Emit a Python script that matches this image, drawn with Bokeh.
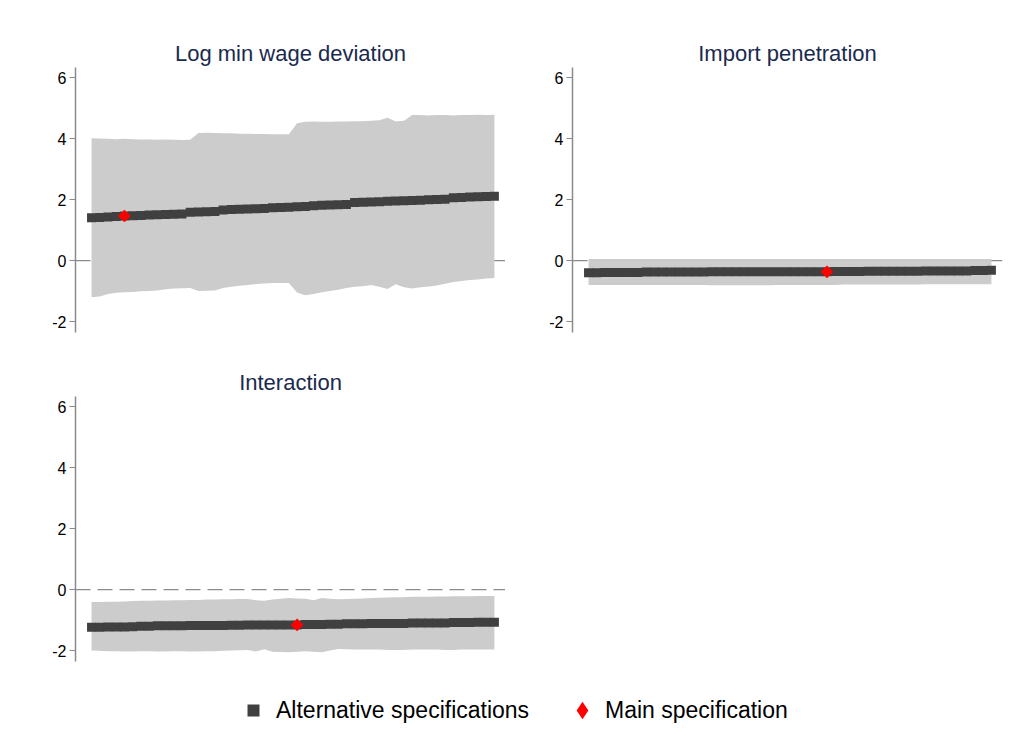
from bokeh.plotting import figure
from bokeh.layouts import column, row
from bokeh.models import (Range1d, FixedTicker, Span, Legend, LegendItem,
                          ColumnDataSource, CustomJSTickFormatter)
from bokeh.embed import file_html
from bokeh.resources import INLINE

# ---------------- data ----------------
spec_rank = list(range(1, 51))

titles = ["Log min wage deviation", "Import penetration", "Interaction"]

wage_coef = [1.40, 1.41, 1.43, 1.44, 1.46, 1.47, 1.48, 1.49, 1.50, 1.51,
             1.52, 1.53, 1.58, 1.59, 1.60, 1.61, 1.66, 1.67, 1.68, 1.69,
             1.70, 1.71, 1.73, 1.74, 1.75, 1.76, 1.77, 1.80, 1.81, 1.82,
             1.83, 1.84, 1.90, 1.91, 1.92, 1.93, 1.94, 1.95, 1.96, 1.97,
             1.98, 1.99, 2.00, 2.01, 2.06, 2.07, 2.08, 2.09, 2.10, 2.11]
wage_hi = [4.01, 4.00, 3.99, 3.98, 3.99, 3.98, 3.97, 3.97, 3.96, 3.97,
           3.96, 3.95, 3.96, 4.18, 4.19, 4.18, 4.17, 4.17, 4.16, 4.16,
           4.15, 4.15, 4.14, 4.14, 4.14, 4.50, 4.55, 4.56, 4.55, 4.55,
           4.56, 4.56, 4.57, 4.57, 4.58, 4.60, 4.68, 4.56, 4.58, 4.77,
           4.77, 4.76, 4.77, 4.77, 4.76, 4.77, 4.77, 4.78, 4.77, 4.78]
wage_lo = [-1.20, -1.18, -1.10, -1.06, -1.04, -1.03, -1.01, -1.00, -0.98, -0.94,
           -0.92, -0.91, -0.90, -1.00, -0.99, -0.98, -0.90, -0.86, -0.83, -0.80,
           -0.77, -0.75, -0.74, -0.74, -0.74, -1.05, -1.14, -1.10, -1.04, -1.00,
           -0.96, -0.90, -0.86, -0.84, -0.80, -0.86, -0.93, -0.78, -0.88, -0.92,
           -0.88, -0.85, -0.82, -0.76, -0.70, -0.67, -0.64, -0.62, -0.59, -0.57]
wage_main = 5

imp_coef = [-0.40, -0.40, -0.39, -0.39, -0.39, -0.39, -0.39, -0.38, -0.38, -0.38,
            -0.38, -0.38, -0.38, -0.38, -0.38, -0.37, -0.37, -0.37, -0.37, -0.37,
            -0.37, -0.37, -0.37, -0.37, -0.37, -0.37, -0.37, -0.37, -0.37, -0.37,
            -0.36, -0.36, -0.36, -0.36, -0.35, -0.35, -0.35, -0.35, -0.35, -0.35,
            -0.35, -0.34, -0.34, -0.34, -0.34, -0.34, -0.34, -0.33, -0.33, -0.32]
imp_hi = [0.05, 0.05, 0.05, 0.05, 0.05, 0.05, 0.05, 0.05, 0.05, 0.05,
          0.05, 0.05, 0.05, 0.05, 0.05, 0.05, 0.05, 0.05, 0.05, 0.05,
          0.05, 0.05, 0.05, 0.05, 0.05, 0.05, 0.05, 0.05, 0.05, 0.05,
          0.05, 0.05, 0.05, 0.05, 0.05, 0.05, 0.05, 0.05, 0.05, 0.05,
          0.05, 0.05, 0.05, 0.05, 0.05, 0.05, 0.05, 0.05, 0.05, 0.05]
imp_lo = [-0.80, -0.80, -0.80, -0.80, -0.80, -0.80, -0.80, -0.80, -0.80, -0.80,
          -0.80, -0.80, -0.80, -0.80, -0.80, -0.81, -0.81, -0.81, -0.81, -0.81,
          -0.81, -0.81, -0.81, -0.80, -0.80, -0.80, -0.80, -0.80, -0.80, -0.80,
          -0.80, -0.79, -0.79, -0.79, -0.79, -0.79, -0.79, -0.79, -0.79, -0.79,
          -0.79, -0.78, -0.78, -0.78, -0.78, -0.78, -0.78, -0.78, -0.78, -0.78]
imp_main = 30

int_coef = [-1.24, -1.24, -1.23, -1.23, -1.23, -1.22, -1.20, -1.20, -1.19, -1.19,
            -1.19, -1.19, -1.18, -1.18, -1.18, -1.18, -1.18, -1.17, -1.17, -1.16,
            -1.16, -1.16, -1.16, -1.16, -1.16, -1.16, -1.15, -1.15, -1.15, -1.14,
            -1.14, -1.12, -1.12, -1.12, -1.11, -1.11, -1.11, -1.11, -1.11, -1.10,
            -1.10, -1.10, -1.10, -1.10, -1.08, -1.08, -1.08, -1.07, -1.07, -1.07]
int_hi = [-0.41, -0.41, -0.40, -0.40, -0.39, -0.38, -0.37, -0.37, -0.36, -0.36,
          -0.35, -0.35, -0.34, -0.34, -0.33, -0.33, -0.32, -0.32, -0.31, -0.31,
          -0.35, -0.37, -0.33, -0.30, -0.28, -0.29, -0.30, -0.35, -0.28, -0.30,
          -0.32, -0.31, -0.30, -0.29, -0.28, -0.27, -0.26, -0.25, -0.25, -0.24,
          -0.24, -0.24, -0.23, -0.23, -0.22, -0.22, -0.22, -0.21, -0.21, -0.21]
int_lo = [-2.00, -2.01, -2.02, -2.02, -2.03, -2.03, -2.02, -2.02, -2.03, -2.03,
          -2.02, -2.02, -2.03, -2.03, -2.02, -2.02, -2.01, -2.00, -1.99, -1.98,
          -2.03, -1.96, -2.04, -2.05, -2.06, -2.04, -2.02, -2.04, -2.06, -2.00,
          -1.95, -1.96, -1.97, -1.97, -1.97, -1.97, -1.98, -1.98, -1.98, -1.97,
          -1.97, -1.97, -1.97, -1.98, -1.98, -1.97, -1.97, -1.97, -1.97, -1.97]
int_main = 26

y_ticks = [-2, 0, 2, 4, 6]
legend_labels = ["Alternative specifications", "Main specification"]

# ---------------- styling ----------------
FONT = "Liberation Sans"
BAND = "#cccccc"
DOT = "#404040"
AXIS = "#8a8a8a"
TITLE_C = "#1a2a4e"
FRAME_W, FRAME_H = 430, 265


def panel(title, coef, hi, lo, main, left, right, top, bottom):
    p = figure(width=left + FRAME_W + right, height=top + FRAME_H + bottom,
               x_range=Range1d(-0.95, 51.35), y_range=Range1d(-2.36, 6.33),
               x_axis_location=None, toolbar_location=None, output_backend="svg",
               min_border_left=left, min_border_right=right,
               min_border_top=top, min_border_bottom=bottom,
               title=title)
    p.outline_line_color = None
    p.grid.visible = False
    p.background_fill_color = "white"
    p.border_fill_color = "white"
    p.title.align = "center"
    p.title.text_font = FONT
    p.title.text_font_size = "22px"
    p.title.text_font_style = "normal"
    p.title.text_color = TITLE_C
    p.title.standoff = 4

    ax = p.yaxis[0]
    ax.ticker = FixedTicker(ticks=y_ticks)
    ax.formatter = CustomJSTickFormatter(code="return tick.toFixed(0);")
    ax.minor_tick_line_color = None
    ax.axis_line_color = AXIS
    ax.axis_line_width = 1.5
    ax.major_tick_line_color = AXIS
    ax.major_tick_line_width = 1.2
    ax.major_tick_out = 6
    ax.major_tick_in = 0
    ax.major_label_standoff = 3
    ax.major_label_text_font = FONT
    ax.major_label_text_font_size = "16px"
    ax.major_label_text_color = "black"

    zero = Span(location=0, dimension="width", line_color="#8c8c8c",
                line_width=1.3, line_dash="15 7", level="underlay")
    p.add_layout(zero)

    src = ColumnDataSource(dict(x=spec_rank, coef=coef, hi=hi, lo=lo))
    p.varea(x="x", y1="lo", y2="hi", source=src, fill_color=BAND)
    p.scatter(x="x", y="coef", source=src, marker="square", size=9,
              fill_color=DOT, line_color=DOT, line_width=0)
    p.scatter(x=[spec_rank[main - 1]], y=[coef[main - 1]], marker="square",
              angle=45, angle_units="deg", size=9,
              fill_color="red", line_color="red", line_width=0)
    return p


p1 = panel(titles[0], wage_coef, wage_hi, wage_lo, wage_main, 75, 0, 67, 5)
p2 = panel(titles[1], imp_coef, imp_hi, imp_lo, imp_main, 67, 10, 67, 5)
p3 = panel(titles[2], int_coef, int_hi, int_lo, int_main, 75, 0, 59, 10)

# legend figure
lf = figure(width=1020, height=78, x_range=Range1d(0, 1), y_range=Range1d(0, 1),
            x_axis_location=None, y_axis_location=None, toolbar_location=None,
            output_backend="svg", min_border=0)
lf.outline_line_color = None
lf.grid.visible = False
r_alt = lf.scatter(x=[-10], y=[-10], marker="square", size=12,
                   fill_color=DOT, line_color=DOT, line_width=0)
r_main = lf.scatter(x=[-10], y=[-10], marker="diamond", size=17,
                    fill_color="red", line_color="red", line_width=0)
common = dict(orientation="horizontal", label_text_font=FONT,
              label_text_font_size="23px", label_text_color="black",
              border_line_color=None, background_fill_alpha=0,
              padding=0, margin=0)
leg1 = Legend(items=[LegendItem(label=legend_labels[0], renderers=[r_alt])],
              location=(238, 24), glyph_width=30, glyph_height=30,
              label_standoff=8, **common)
leg2 = Legend(items=[LegendItem(label=legend_labels[1], renderers=[r_main])],
              location=(560, 17), glyph_width=44, glyph_height=44,
              label_standoff=1, **common)
lf.add_layout(leg1, "center")
lf.add_layout(leg2, "center")

layout = column(row(p1, p2), row(p3), lf)

open("out.html", "w").write(file_html(layout, INLINE))
